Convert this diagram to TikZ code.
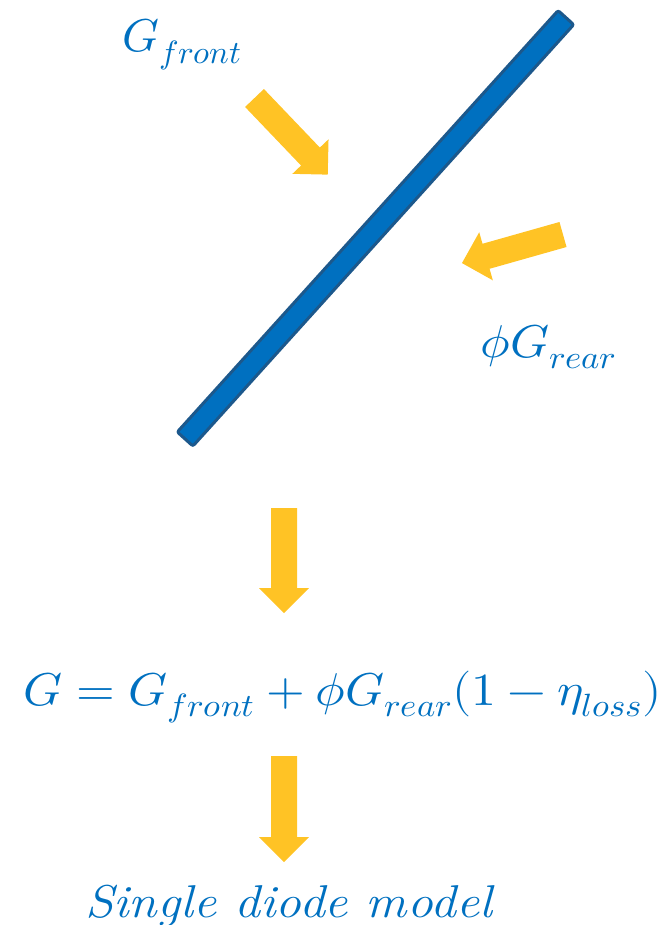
\documentclass[tikz,border=0pt]{standalone}
\usepackage{amsmath}
\usepackage{unicode-math}
\usetikzlibrary{positioning}

\definecolor{panelblue}{RGB}{0,112,192}
\definecolor{paneledge}{RGB}{28,88,140}
\definecolor{sunyellow}{RGB}{255,195,37}

\tikzset{
  beam/.style={fill=panelblue, draw=paneledge, line width=3pt, rounded corners=2pt},
  sun/.style={fill=sunyellow},
  lbl/.style={text=panelblue, inner sep=0pt, font=\fontsize{46}{54}\selectfont},
  pics/fatarrow/.style={code={
    \fill[sun] (0,-13) -- (#1-25,-13) -- (#1-25,-25) -- (#1,0)
      -- (#1-25,25) -- (#1-25,13) -- (0,13) -- cycle;}}
}

\begin{document}
\begin{tikzpicture}[x=1pt,y=-1pt]
  \useasboundingbox (0,0) rectangle (669,925);
  % bifacial panel
  \node[beam, rotate=47.9, minimum width=568pt, minimum height=21pt] (panel) at (375.5,228.3) {};
  % irradiance on both sides
  \node[lbl, anchor=base west] (gfront) at (122,52) {\scalebox{1.02}[1]{$G_{front}$}};
  \node[lbl, anchor=base west] (grear) at (480,357) {\scalebox{1.08}[1]{$\phi G_{rear}$}};
  \pic[rotate=-46.3] at (254.5,98) {fatarrow=106};
  \pic[rotate=195.8] at (563,234.5) {fatarrow=105};
  % effective irradiance
  \pic[rotate=-90] at (284,508) {fatarrow=105};
  \node[lbl, anchor=base west] (geff) at (23,705) {\scalebox{1.08}[1]{$G = G_{front} + \phi G_{rear}(1-\eta_{loss})$}};
  \pic[rotate=-90] at (284,756) {fatarrow=106};
  \node[lbl, anchor=base west] (sdm) at (85,917) {\scalebox{1.12}[1]{\itshape Single diode model}};
\end{tikzpicture}
\end{document}
